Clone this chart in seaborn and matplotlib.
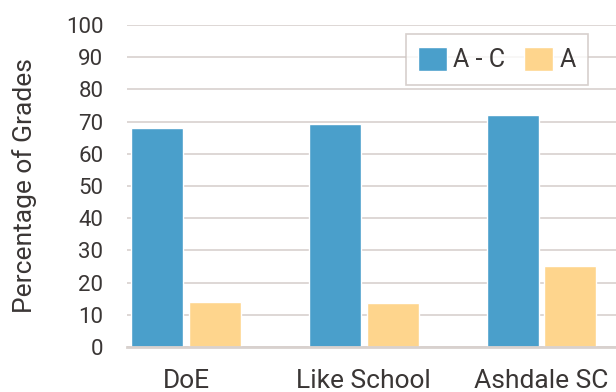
import matplotlib
matplotlib.use("Agg")
import matplotlib.pyplot as plt
import seaborn as sns
import pandas as pd

schools = ["DoE", "Like School", "Ashdale SC"]
grade_bands = ["A - C", "A"]
pct_a_to_c = [68.0, 69.3, 72.0]
pct_a = [14.0, 13.7, 25.2]
y_ticks = [0, 10, 20, 30, 40, 50, 60, 70, 80, 90, 100]

df = pd.DataFrame({
    "School": schools * 2,
    "Band": [grade_bands[0]] * 3 + [grade_bands[1]] * 3,
    "Percentage": pct_a_to_c + pct_a,
})

sns.set_theme(style="white")
plt.rcParams["font.family"] = ["Roboto", "DejaVu Sans"]

text_color = "#3a3635"
grid_color = "#d8d1ce"

fig = plt.figure(figsize=(6.16, 3.92), dpi=100)
ax = fig.add_axes([127 / 616, 45 / 392, 1 - 127 / 616, (347 - 25) / 392])

sns.barplot(
    data=df, x="School", y="Percentage", hue="Band",
    palette=["#4a9fcb", "#fed58d"], width=0.65, gap=0.1,
    saturation=1, ax=ax, legend=True,
)

ax.set_ylim(0, 100)
ax.set_xlim(-0.332, 2.419)
ax.set_yticks(y_ticks)
ax.set_axisbelow(True)
ax.yaxis.grid(True, color=grid_color, linewidth=1.2)
for side in ["top", "right", "left"]:
    ax.spines[side].set_visible(False)
ax.spines["bottom"].set_color(grid_color)
ax.spines["bottom"].set_linewidth(2)

ax.tick_params(axis="y", length=0, pad=17, labelsize=16, labelcolor=text_color)
ax.tick_params(axis="x", length=0, pad=16, labelsize=19, labelcolor=text_color)
ax.set_xlabel("")
ax.set_ylabel("Percentage of Grades", fontsize=19, color=text_color, labelpad=21)

leg = ax.legend(
    loc="upper right", bbox_to_anchor=((588 - 127) / 489, (392 - 34 - 45) / 322),
    borderaxespad=0, ncol=2, frameon=True, fancybox=False, fontsize=18,
    handlelength=1.15, handleheight=1.15, handletextpad=0.25, columnspacing=0.75,
    borderpad=0.5, labelcolor=text_color,
)
leg.get_frame().set_edgecolor("#cdc4c0")
leg.get_frame().set_linewidth(1.2)

fig.savefig("out.png", dpi=100)
